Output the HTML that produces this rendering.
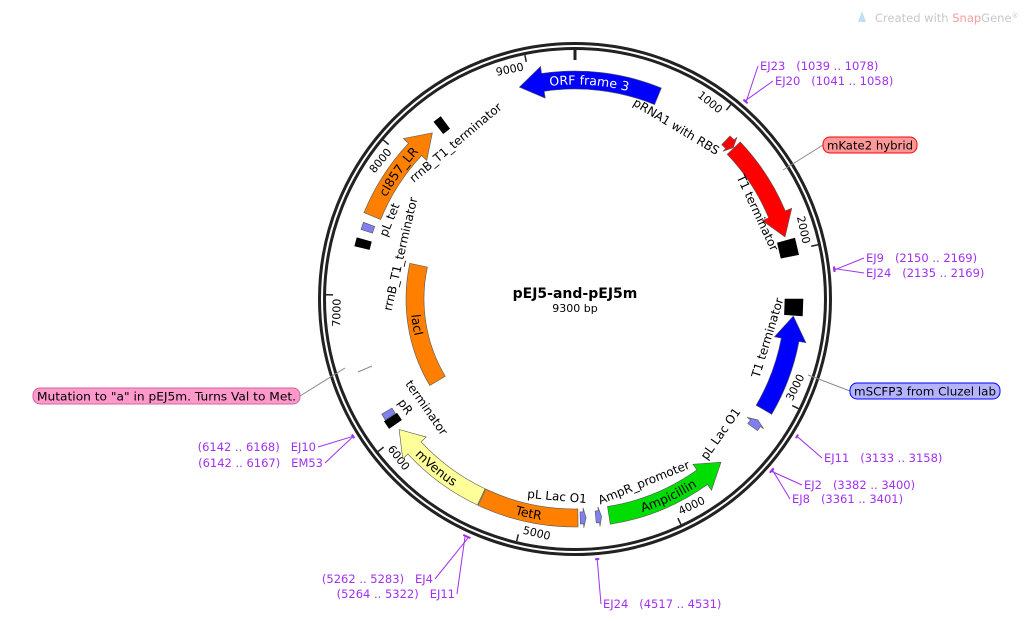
<!DOCTYPE html>
<html><head><meta charset="utf-8"><title>pEJ5-and-pEJ5m</title>
<style>
html,body{margin:0;padding:0;background:#fff;}
svg{display:block;font-family:"DejaVu Sans","Liberation Sans",sans-serif;}
</style></head>
<body>
<svg id="map" width="1035" height="621" viewBox="0 0 1035 621" xmlns="http://www.w3.org/2000/svg">
  <g>
    <path d="M858 22 L862 11 L866 22 Z" fill="#bfe0f2"/>
    <text x="875" y="22" font-size="11.5" fill="#c8c8c8">Created with <tspan fill="#efa0a0">Snap</tspan>Gene<tspan font-size="7" dy="-4">®</tspan></text>
  </g>
  <g id="backbone"></g>
  <g id="ticks"></g>
  <g id="feats"></g>
  <g id="flabels"></g>
  <g id="markers"></g>
  <g id="callouts"></g>
  <text x="575" y="298" text-anchor="middle" font-size="14" font-weight="bold" fill="#000">pEJ5-and-pEJ5m</text>
  <text x="575" y="312" text-anchor="middle" font-size="11" fill="#000">9300 bp</text>
</svg>
<script>
const TOTAL = 9300;
const tickValues = [1000,2000,3000,4000,5000,6000,7000,8000,9000];
const featNames  = ["ORF frame 3","pRNA1 with RBS","mKate2 hybrid","T1 terminator","T1 terminator","mSCFP3","pL Lac O1","Ampicillin","AmpR_promoter","pL Lac O1","TetR","mVenus","terminator","pR","lacI","rrnB_T1_terminator","pL tet","cI857_LR","rrnB_T1_terminator"];
const featStarts = [8920,1125,1200,1950,2350,2440,3190,3570,4470,4575,4630,5305,6080,6135,6180,7330,7440,7550,8310];
const featEnds   = [575, 1195,1900,2010,2410,3110,3250,4420,4510,4615,5300,6030,6125,6180,7290,7375,7490,8250,8355];
const featDirs   = [-1,1,1,0,0,-1,-1,-1,-1,-1,0,1,0,0,0,0,0,1,0];
const featColors = ["#0000ff","#ff0000","#ff0000","#000000","#000000","#0000ff","#7f7fef","#00dd00","#7f7fef","#7f7fef","#ff8000","#ffff99","#000000","#7f7fef","#ff8000","#000000","#7f7fef","#ff8000","#000000"];
const featTrack  = [0,0,0,0,0,0,0,0,0,0,0,0,0,0,1,0,0,0,0];
const markerPos    = [1058,1050,2160,2152,3145,3391,3381,4524,5272,5293,6155,6154];
const markerLabels = ["EJ23  (1039 .. 1078)","EJ20  (1041 .. 1058)","EJ9  (2150 .. 2169)","EJ24  (2135 .. 2169)","EJ11  (3133 .. 3158)","EJ2  (3382 .. 3400)","EJ8  (3361 .. 3401)","EJ24  (4517 .. 4531)","(5262 .. 5283)  EJ4","(5264 .. 5322)  EJ11","(6142 .. 6168)  EJ10","(6142 .. 6167)  EM53"];

const NS="http://www.w3.org/2000/svg";
const cx=575, cy=299, R=253;
const trackR=[219,160];
function ang(bp){return bp/TOTAL*2*Math.PI;}
function pt(r,bp){const a=ang(bp);return [cx+r*Math.sin(a), cy-r*Math.cos(a)];}
function mk(tag,attrs,parent){const e=document.createElementNS(NS,tag);for(const k in attrs)e.setAttribute(k,attrs[k]);parent.appendChild(e);return e;}
function arcD(r,s,e){const p0=pt(r,s),p1=pt(r,e);const large=(e-s)>TOTAL/2?1:0;const sw=e>=s?1:0;return `M${p0[0]} ${p0[1]} A${r} ${r} 0 ${large} ${sw} ${p1[0]} ${p1[1]}`;}

const bb=document.getElementById('backbone');
let c1=mk('circle',{cx:cx,cy:cy,r:R+2.5,fill:'none',stroke:'#222',"stroke-width":3},bb);


let c2=mk('circle',{cx:cx,cy:cy,r:R-2.5,fill:'none',stroke:'#222',"stroke-width":3},bb);


let origin=mk('line',{x1:cx,y1:cy-R+1,x2:cx,y2:cy-R+14,stroke:'#222',"stroke-width":3},bb);



const tg=document.getElementById('ticks');
tickValues.forEach(v=>{
  const a=pt(R-4,v), b=pt(R-11,v);
  const l=mk('line',{x1:a[0],y1:a[1],x2:b[0],y2:b[1],stroke:'#222',"stroke-width":1.5},tg);
  
  
  const p=pt(R-15,v-110);
  let deg=v/TOTAL*360; let rot=(deg>90&&deg<270)?deg-180:deg; if(rot>180)rot-=360;
  const t=mk('text',{x:p[0],y:p[1],"text-anchor":"middle","dominant-baseline":"middle","font-size":11,fill:'#000',transform:`rotate(${rot} ${p[0]} ${p[1]})`},tg);
  t.textContent=String(v);
  
  
});

const fg=document.getElementById('feats');
const defs=mk('defs',{},document.getElementById('map'));
featNames.forEach((name,i)=>{
  let s=featStarts[i], e=featEnds[i]; if(e<s) e+=TOTAL;
  const r=trackR[featTrack[i]], col=featColors[i], dir=featDirs[i];
  const span=e-s; const len=span/TOTAL*2*Math.PI*r;
  let d;
  if(col==="#000000" && span<80){
    const m=(s+e)/2, big=name==="T1 terminator";
    const w=big?9:7.5, hb=big?55:28;
    const a=pt(r+w,m-hb),b=pt(r+w,m+hb),c=pt(r-w,m+hb),dd=pt(r-w,m-hb);
    d=`M${a} L${b} L${c} L${dd} Z`;
  } else {
    const hw = len<30?6:9;
    const head = dir===0?0:Math.min(len*0.45, 24);
    const headBp=head/(2*Math.PI*r)*TOTAL;
    let bs=s,be=e;
    if(dir===1) be=e-headBp; if(dir===-1) bs=s+headBp;
    const o0=pt(r+hw,bs),i1=pt(r-hw,be);
    const hx = len<30?4:7;
    d=`M${o0} `+`A${r+hw} ${r+hw} 0 ${(be-bs)>TOTAL/2?1:0} 1 ${pt(r+hw,be)} `;
    if(dir===1){const tip=pt(r,e);d+=`L${pt(r+hw+hx,be)} L${tip} L${pt(r-hw-hx,be)} `;}
    d+=`L${i1} A${r-hw} ${r-hw} 0 ${(be-bs)>TOTAL/2?1:0} 0 ${pt(r-hw,bs)} `;
    if(dir===-1){const tip=pt(r,s);d+=`L${pt(r-hw-hx,bs)} L${tip} L${pt(r+hw+hx,bs)} `;}
    d+='Z';
  }
  const p=mk('path',{d:d,fill:col,stroke:col==="#000000"?'#000':'#555',"stroke-width":0.6},fg);
  
  
});

const inside=[[0,"#fff",1],[7,"#000",-1],[10,"#000",-1],[11,"#000",-1],[14,"#000",-1],[17,"#000",1]];
const flg=document.getElementById('flabels');
inside.forEach(([i,col,way])=>{
  let s=featStarts[i], e=featEnds[i]; if(e<s) e+=TOTAL;
  const r=trackR[featTrack[i]];
  const id='lp'+i;
  let dpath = way===1 ? arcD(r-4.5,s-300,e+300) : (function(){const rr=r+4.5;const p0=pt(rr,e+300),p1=pt(rr,s-300);return `M${p0[0]} ${p0[1]} A${rr} ${rr} 0 0 0 ${p1[0]} ${p1[1]}`;})();
  mk('path',{id:id,d:dpath,fill:'none'},defs);
  const t=mk('text',{"font-size":12.5,fill:col},flg);
  const tp=mk('textPath',{href:'#'+id,startOffset:'50%',"text-anchor":"middle"},t);
  tp.textContent=featNames[i];
  
  
});
</script>
<script>
const olabels=[["pRNA1 with RBS",676,127,31],["T1 terminator",757,213,65],["T1 terminator",768,338,-73],["pL Lac O1",721,434,-55],["AmpR_promoter",644,483,-22],["pL Lac O1",557,497,5],["terminator",426,408,55],["pR",405,407,55],["rrnB_T1_terminator",456,143,-40],["pL tet",390,220,-68],["rrnB_T1_terminator",401,254,-77]];
const flg2=document.getElementById('flabels');
olabels.forEach(([txt,x,y,rot])=>{
  const t=document.createElementNS("http://www.w3.org/2000/svg",'text');
  t.setAttribute('x',x);t.setAttribute('y',y);t.setAttribute('text-anchor','middle');t.setAttribute('dominant-baseline','middle');
  t.setAttribute('font-size','12');t.setAttribute('fill','#000');t.setAttribute('transform',`rotate(${rot} ${x} ${y})`);
  t.textContent=txt;
  
  
  flg2.appendChild(t);
});
const mLabelXY=[[760,70,'start'],[775,85,'start'],[866,262,'start'],[866,277,'start'],[824,462,'start'],[804,489,'start'],[792,503,'start'],[603,608,'start'],[433,583,'end'],[455,598,'end'],[316,451,'end'],[323,467,'end']];
const mg=document.getElementById('markers');
markerPos.forEach((bp,i)=>{
  const P="#a030f0";
  const a=pt(R+8,bp-12),b=pt(R+8,bp+12),m=pt(R+8,bp);
  const tk=mk('line',{x1:a[0],y1:a[1],x2:b[0],y2:b[1],stroke:P,"stroke-width":2},mg);
  
  
  const [lx,ly,anc]=mLabelXY[i];
  const ex = anc==='start'? lx-2 : lx+2;
  const ln=mk('line',{x1:m[0],y1:m[1],x2:ex,y2:ly-4,stroke:P,"stroke-width":1},mg);
  
  
  const t=mk('text',{x:lx,y:ly,"text-anchor":anc,"font-size":11.5,fill:P},mg);
  t.textContent=markerLabels[i].replace(/  /g,'\u00a0\u00a0\u00a0');
  
  
});
const cg=document.getElementById('callouts');
function callout(txt,x,y,w,fill,stroke,lx1,ly1,name){
  const l=mk('polyline',{points:`${lx1},${ly1} ${txt.startsWith('Mutation')?x+w:x},${y+8}`,fill:'none',stroke:'#888',"stroke-width":1},cg);
  
  
  const r=mk('rect',{x:x,y:y,width:w,height:16,rx:7,fill:fill,stroke:stroke,"stroke-width":1},cg);
  
  
  const t=mk('text',{x:x+w/2,y:y+12.5,"text-anchor":"middle","font-size":11.5,fill:'#000',textLength:w-8,lengthAdjust:'spacingAndGlyphs'},cg);
  t.textContent=txt;
  
  
}
callout('mKate2 hybrid',823,137,94,'#ff9999','#ff0000',783,170,'mkate2-callout');
callout('mSCFP3 from Cluzel lab',850,383,150,'#b3b3ff','#0000ff',808,375,'mscfp3-callout');
callout('Mutation to "a" in pEJ5m. Turns Val to Met.',33,388,267,'#ff99cc','#cc6699',345,368,'mutation-callout');
const dash=mk('line',{x1:358,y1:372,x2:372,y2:366,stroke:'#888',"stroke-width":1},cg);


</script>
</body></html>
